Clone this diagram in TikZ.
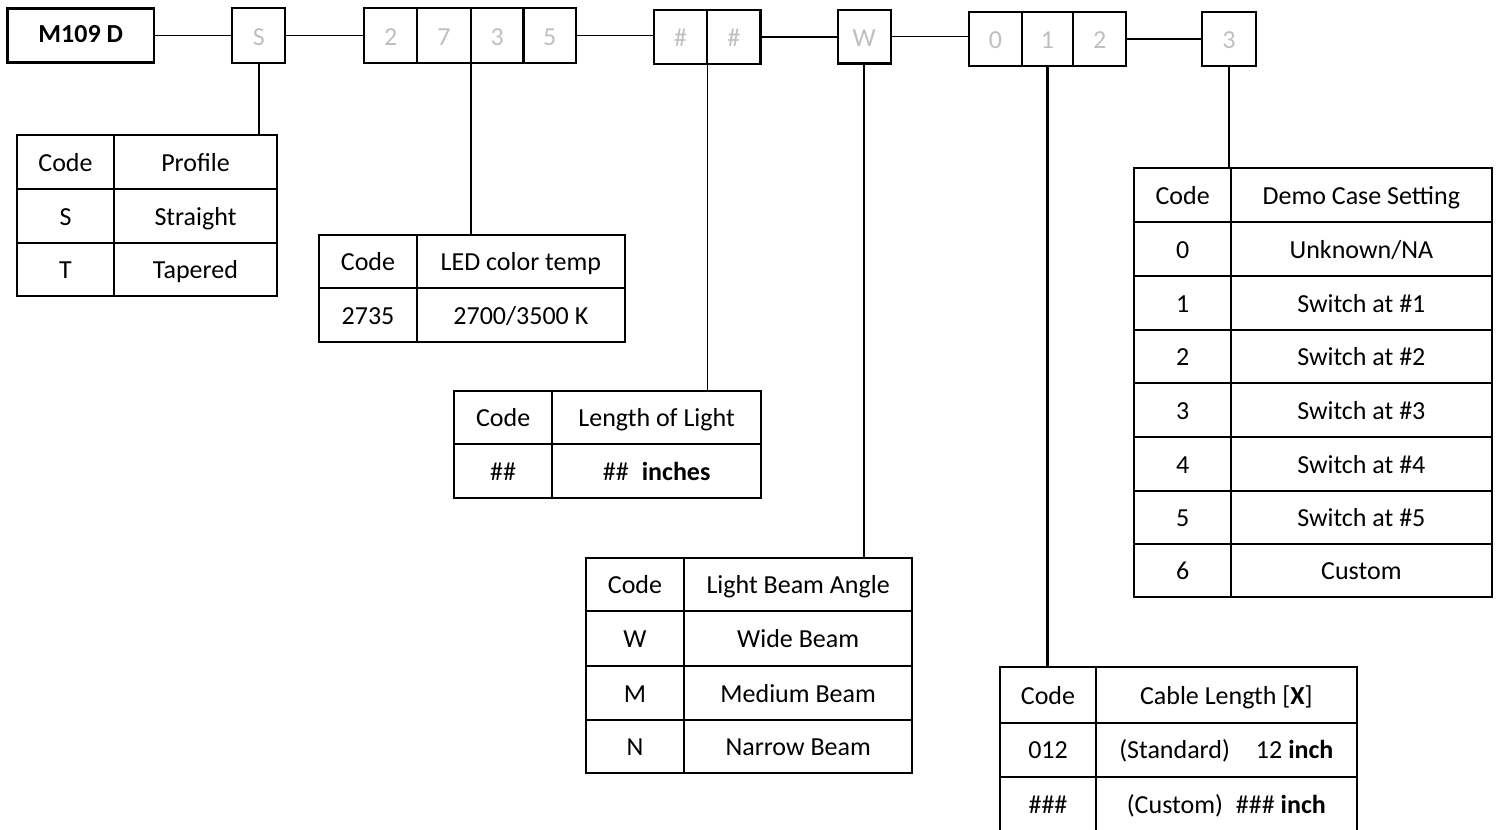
\documentclass[tikz,border=0pt]{standalone}
\usepackage{fontspec}
\setmainfont{Carlito}
\definecolor{codegray}{RGB}{191,191,191}
\tikzset{
  basecell/.style={draw, anchor=north west, inner sep=0pt, outer sep=0pt,
    font=\fontsize{13}{15}\selectfont, align=center},
  cell/.style={basecell, line width=1pt, text height=0.92em, text depth=0pt},
  codebox/.style={basecell, line width=1.1pt, text=codegray, text height=0.98em, text depth=0pt},
  mainbox/.style={basecell, line width=1.1pt, text height=0.74em, text depth=0pt, font=\fontsize{13}{15}\selectfont\bfseries},
  hlink/.style={line width=0.65pt},
  vlink/.style={line width=1.15pt},
  vthin/.style={line width=0.75pt},
}
\newcommand\mkcell[7]{%
  \node[#1, minimum width={0.5pt*(#5-#3)}, minimum height={0.5pt*(#6-#4)}] (#2) at (#3,#4) {#7};}
\begin{document}
\begin{tikzpicture}[x=0.5pt, y=-0.5pt]
\useasboundingbox (0,0) rectangle (1497,829);
% ---- top row ----
\mkcell{mainbox}{m109}{7.5}{8.5}{154}{62.5}{M109 D}
\mkcell{codebox}{s1}{232.3}{8.3}{285.3}{62.7}{S}
\mkcell{codebox}{t1}{364}{8.3}{417.3}{62.7}{2}
\mkcell{codebox}{t2}{417.3}{8.3}{470.7}{62.7}{7}
\mkcell{codebox}{t3}{470.7}{8.3}{523.5}{62.7}{3}
\mkcell{codebox}{t4}{523.5}{8.3}{576}{62.7}{5}
\mkcell{codebox}{h1}{654}{10}{707.3}{64}{\#}
\mkcell{codebox}{h2}{707.3}{10}{760.5}{64}{\#}
\mkcell{codebox}{w}{837.7}{10}{890.7}{63.5}{W}
\mkcell{codebox}{o1}{969.3}{12.3}{1021.7}{65.7}{0}
\mkcell{codebox}{o2}{1021.7}{12.3}{1073.3}{65.7}{1}
\mkcell{codebox}{o3}{1073.3}{12.3}{1126}{65.7}{2}
\mkcell{codebox}{th}{1202.3}{12.3}{1255.7}{66}{3}
% ---- profile table ----
\mkcell{cell}{p11}{16.7}{134.7}{114.3}{189.3}{Code}
\mkcell{cell}{p12}{114.3}{134.7}{276.7}{189.3}{Profile}
\mkcell{cell}{p21}{16.7}{189.3}{114.3}{243.3}{S}
\mkcell{cell}{p22}{114.3}{189.3}{276.7}{243.3}{Straight}
\mkcell{cell}{p31}{16.7}{243.3}{114.3}{296}{T}
\mkcell{cell}{p32}{114.3}{243.3}{276.7}{296}{Tapered}
% ---- LED table ----
\mkcell{cell}{l11}{319.3}{235}{416.7}{288.3}{Code}
\mkcell{cell}{l12}{416.7}{235}{625}{288.3}{LED color temp}
\mkcell{cell}{l21}{319.3}{288.3}{416.7}{342.3}{2735}
\mkcell{cell}{l22}{416.7}{288.3}{625}{342.3}{2700/3500 K}
% ---- length table ----
\mkcell{cell}{g11}{454}{390.7}{552.3}{444.3}{Code}
\mkcell{cell}{g12}{552.3}{390.7}{761}{444.3}{Length of Light}
\mkcell{cell}{g21}{454}{444.3}{552.3}{498.3}{\#\#}
\mkcell{cell}{g22}{552.3}{444.3}{761}{498.3}{\#\#\hspace{0.5em}\textbf{inches}}
% ---- beam table ----
\mkcell{cell}{b11}{586}{558.3}{684}{611}{Code}
\mkcell{cell}{b12}{684}{558.3}{912.3}{611}{Light Beam Angle}
\mkcell{cell}{b21}{586}{611}{684}{665.7}{W}
\mkcell{cell}{b22}{684}{611}{912.3}{665.7}{Wide Beam}
\mkcell{cell}{b31}{586}{665.7}{684}{720}{M}
\mkcell{cell}{b32}{684}{665.7}{912.3}{720}{Medium Beam}
\mkcell{cell}{b41}{586}{720}{684}{772.7}{N}
\mkcell{cell}{b42}{684}{720}{912.3}{772.7}{Narrow Beam}
% ---- cable table ----
\mkcell{cell}{c11}{1000}{667.3}{1096}{722.7}{Code}
\mkcell{cell}{c12}{1096}{667.3}{1356.7}{722.7}{Cable Length [\textbf{X}]}
\mkcell{cell}{c21}{1000}{722.7}{1096}{776.7}{012}
\mkcell{cell}{c22}{1096}{722.7}{1356.7}{776.7}{(Standard)\hspace{1em}12 \textbf{inch}}
\mkcell{cell}{c31}{1000}{776.7}{1096}{831}{\#\#\#}
\mkcell{cell}{c32}{1096}{776.7}{1356.7}{831}{(Custom)\hspace{0.5em}\#\#\# \textbf{inch}}
% ---- demo table ----
\mkcell{cell}{d11}{1134.3}{168.3}{1231}{221.7}{Code}
\mkcell{cell}{d12}{1231}{168.3}{1491.7}{221.7}{Demo Case Setting}
\mkcell{cell}{d21}{1134.3}{221.7}{1231}{276}{0}
\mkcell{cell}{d22}{1231}{221.7}{1491.7}{276}{Unknown/NA}
\mkcell{cell}{d31}{1134.3}{276}{1231}{330}{1}
\mkcell{cell}{d32}{1231}{276}{1491.7}{330}{Switch at \#1}
\mkcell{cell}{d41}{1134.3}{330}{1231}{383.3}{2}
\mkcell{cell}{d42}{1231}{330}{1491.7}{383.3}{Switch at \#2}
\mkcell{cell}{d51}{1134.3}{383.3}{1231}{437.3}{3}
\mkcell{cell}{d52}{1231}{383.3}{1491.7}{437.3}{Switch at \#3}
\mkcell{cell}{d61}{1134.3}{437.3}{1231}{490.7}{4}
\mkcell{cell}{d62}{1231}{437.3}{1491.7}{490.7}{Switch at \#4}
\mkcell{cell}{d71}{1134.3}{490.7}{1231}{544.3}{5}
\mkcell{cell}{d72}{1231}{490.7}{1491.7}{544.3}{Switch at \#5}
\mkcell{cell}{d81}{1134.3}{544.3}{1231}{597}{6}
\mkcell{cell}{d82}{1231}{544.3}{1491.7}{597}{Custom}
% ---- horizontal connectors ----
\draw[hlink] (m109.east) -- (s1.west |- m109.east);
\draw[hlink] (s1.east) -- (t1.west |- s1.east);
\draw[hlink] (t4.east) -- (h1.west |- t4.east);
\draw[hlink] (h2.east) -- (w.west |- h2.east);
\draw[hlink] (w.east) -- (o1.west |- w.east);
\draw[hlink] (o3.east) -- (th.west |- o3.east);
% ---- vertical connectors ----
\draw[vlink] (s1.south) -- (s1.south |- p12.north);
\draw[vlink] (t2.south east) -- (t2.south east |- l12.north);
\draw[vthin] (h1.south east) -- (h1.south east |- g12.north);
\draw[vthin] (w.south) -- (w.south |- b12.north);
\draw[vlink] (o2.south) -- (o2.south |- c11.north);
\draw[vthin] (th.south) -- (th.south |- d11.north);
\end{tikzpicture}
\end{document}
